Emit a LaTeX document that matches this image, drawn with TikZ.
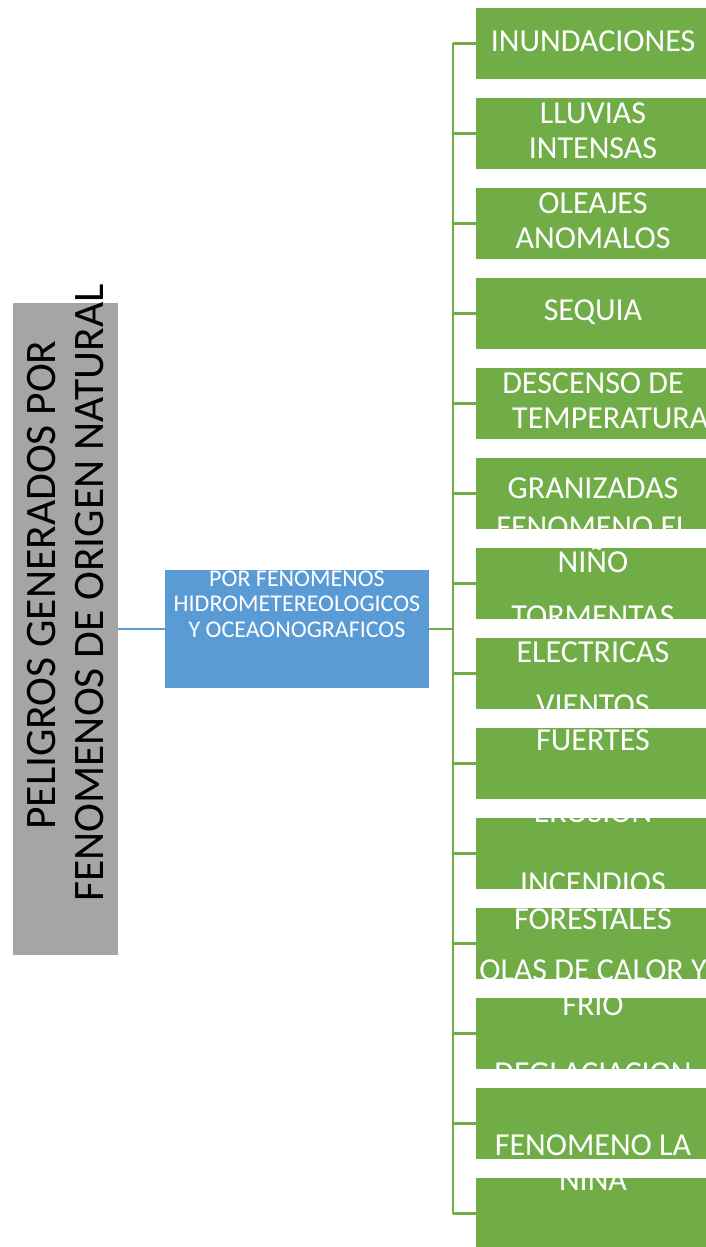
\documentclass[tikz,border=0pt]{standalone}
\usepackage{fontspec}
\setmainfont{Carlito}
\usepackage{tikz}
\usetikzlibrary{calc}
\definecolor{grisbox}{HTML}{A5A5A5}
\definecolor{azulbox}{HTML}{5B9BD5}
\definecolor{verdebox}{HTML}{70AD47}
\tikzset{
    caja/.style={fill=verdebox,minimum width=230pt,minimum height=71pt,inner sep=0pt},
    etiq/.style={text=white,inner sep=0pt,anchor=base,font=\fontsize{32}{35}\selectfont},
    rama/.style={draw=verdebox,line width=2.5pt}
}

\begin{document}
\begin{tikzpicture}[x=1pt,y=-1pt]
    \useasboundingbox (0,0) rectangle (706,1247);
    \node[fill=grisbox,minimum width=105pt,minimum height=652pt,inner sep=0pt] (raiz) at (65.5,629) {};
    \node[rotate=90,anchor=base,inner sep=0pt,font=\fontsize{43.5}{49}\selectfont] (raizA) at (55,585) {PELIGROS GENERADOS POR};
    \node[rotate=90,anchor=base,inner sep=0pt,font=\fontsize{43.5}{49}\selectfont] (raizB) at (103,593) {FENOMENOS DE ORIGEN NATURAL};
    \node[fill=azulbox,minimum width=264pt,minimum height=118pt,inner sep=0pt] (medio) at (297,629) {};
    \foreach \y/\t [count=\k] in {586/POR FENOMENOS,611.5/HIDROMETEREOLOGICOS,637/Y OCEAONOGRAFICOS}
        \node[etiq,font=\fontsize{24}{25.5}\selectfont] (medio\k) at (297,\y) {\t};
    \foreach \i in {1,...,14}
        \node[caja] (h\i) at (591,{43.5+90*(\i-1)}) {};
    \coordinate (tronco) at (453,629);
    \draw[azulbox,line width=2pt] (raiz.east) -- (medio.west);
    \draw[rama] (medio.east) -- (tronco);
    \draw[rama] (tronco |- h1.west) -- (tronco |- h14.west);
    \foreach \i in {1,...,14}
        \draw[rama] (tronco |- h\i.west) -- (h\i.west);
    \foreach \y/\t [count=\k] in {52/INUNDACIONES,123/LLUVIAS,158/INTENSAS,213/OLEAJES,248/ANOMALOS,
        320/SEQUIA,393/DESCENSO DE,498/GRANIZADAS,537/FENOMENO EL,572/NIÑO,626/TORMENTAS,
        662/ELECTRICAS,715/VIENTOS,750/FUERTES,822/EROSION,893/INCENDIOS,929/FORESTALES,
        980/OLAS DE CALOR Y,1015/FRIO,1083/DEGLACIACION,1155/FENOMENO LA,1190/NIÑA}
        \node[etiq] (t\k) at (593,\y) {\t};
    \node[etiq,anchor=base west] (temp) at (512,428) {TEMPERATURA};
\end{tikzpicture}
\end{document}
